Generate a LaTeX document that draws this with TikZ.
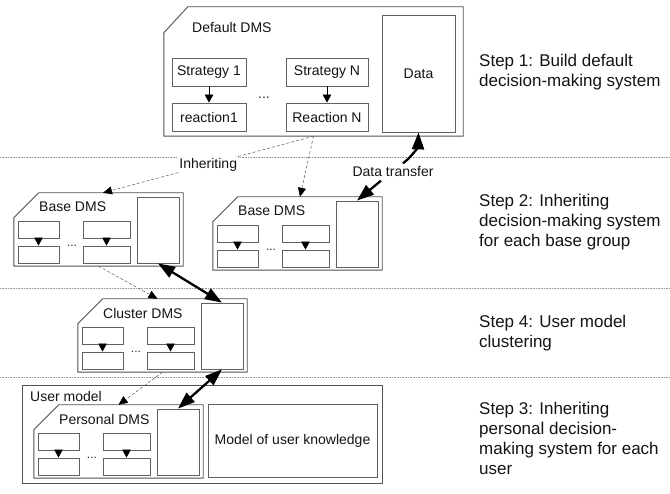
\documentclass[tikz,border=0pt]{standalone}
\usepackage{fontspec}
\setmainfont{Liberation Sans}
\usetikzlibrary{arrows.meta,fit,calc}

% outline of a DMS block: rectangle with the top-left corner cut off
\newcommand\dmsoutline[3]{%
  \draw[frame] ($(#1.north west)+(#2,0)$) -- (#1.north east) -- (#1.south east)
    -- (#1.south west) -- ($(#1.north west)+(0,#3)$) -- cycle;}

% a reduced DMS block (169 x 73) with two strategy columns and a data box
% #1 name, #2/#3 top-left corner, #4 title
\newcommand\smalldms[4]{%
  \node[area, fit={(#2,#3) (#2+169,#3+73)}] (#1) {};
  \dmsoutline{#1}{25}{25}
  \node[txt, anchor=west, inner sep=0pt] (#1-title) at (#2+25,#3+14) {#4};
  \node[cell, fit={(#2+4,#3+28) (#2+45,#3+45)}] (#1-a1) {};
  \node[cell, fit={(#2+4,#3+53) (#2+45,#3+70)}] (#1-a2) {};
  \node[cell, fit={(#2+69,#3+28) (#2+116,#3+45)}] (#1-b1) {};
  \node[cell, fit={(#2+69,#3+53) (#2+116,#3+70)}] (#1-b2) {};
  \node[cell, fit={(#2+123,#3+4) (#2+165,#3+70)}] (#1-data) {};
  \node[dots] (#1-dots) at (#2+58,#3+53) {...};
  \draw[flow] (#1-a1) -- (#1-a2);
  \draw[flow] (#1-b1) -- (#1-b2);}

\begin{document}
\begin{tikzpicture}[x=1pt,y=-1pt,
  txt/.style={font=\fontsize{14}{16}\selectfont, text=black!92},
  dots/.style={font=\fontsize{12}{14}\selectfont, text=black!85, inner sep=0pt},
  steptxt/.style={font=\fontsize{17}{20}\selectfont, text=black!92, align=left,
    anchor=west, inner sep=0pt},
  cell/.style={draw=black!62, line width=0.8pt, inner sep=0pt},
  frame/.style={draw=black!68, line width=0.9pt},
  area/.style={inner sep=0pt},
  sep/.style={draw=black!40, line width=0.6pt, dash pattern=on 0.8pt off 0.8pt},
  flow/.style={black, line width=0.6pt, -{Triangle[width=8.5pt,length=8pt]}},
  inherit/.style={draw=black!65, line width=0.5pt, dash pattern=on 3pt off 2pt,
    -{Triangle[width=8pt,length=9pt,color=black]}},
  bold1/.style={black, line width=2.3pt, -{Triangle[width=12pt,length=17pt]}},
  bold2/.style={black, line width=2.3pt,
    {Triangle[width=12pt,length=17pt]}-{Triangle[width=12pt,length=17pt]}}]

\useasboundingbox (0,0) rectangle (670,494);
\fill[white] (0,0) rectangle (670,494);

% separators between the steps
\draw[sep] (0,157) -- (670,157);
\draw[sep] (0,288) -- (670,288);
\draw[sep] (0,377) -- (670,377);

% default decision-making system
\node[area, fit={(164,7) (463,136)}] (dflt) {};
\dmsoutline{dflt}{24}{26}
\node[txt, anchor=west, inner sep=0pt] (dflt-title) at (192,27) {Default DMS};
\node[cell, fit={(172,58) (246,86)}] (s1) {};
\node[txt] at (s1) {Strategy 1};
\node[cell, fit={(172,103) (246,131)}] (r1) {};
\node[txt] at (r1) {reaction1};
\node[cell, fit={(286,58) (368,86)}] (sn) {};
\node[txt] at (sn) {Strategy N};
\node[cell, fit={(286,103) (368,131)}] (rn) {};
\node[txt] at (rn) {Reaction N};
\node[cell, fit={(382,15) (455,132)}] (dflt-data) {};
\node[txt] at (dflt-data) {Data};
\node[dots, font=\fontsize{14}{16}\selectfont] (dflt-dots) at (264,98) {...};
\draw[flow] (s1) -- (r1);
\draw[flow] (sn) -- (rn);

% base, cluster and personal systems
\smalldms{lbase}{14}{193}{Base DMS}
\smalldms{rbase}{213}{197}{Base DMS}
\smalldms{clus}{78}{299}{Cluster DMS}

% user model with its personal system
\node[area, fit={(23,386) (382,483)}] (user) {};
\draw[frame] (user.north west) rectangle (user.south east);
\node[txt, anchor=west, inner sep=0pt] (user-title) at (30,396) {User model};
\smalldms{pers}{34}{405}{Personal DMS}
\node[cell, fit={(208,404) (377,477)}] (know) {};
\node[txt] at (know) {Model of user knowledge};

% inheritance
\draw[inherit] (dflt.south) -- node[txt, fill=white, inner sep=1pt, pos=0.5] (inh) {Inheriting}
  ([xshift=4.5pt]lbase.north);
\draw[inherit] (dflt.south) -- ([xshift=2.5pt]rbase.north);
\draw[inherit] (lbase.south) -- ([xshift=-5pt]clus.north);
\draw[inherit] (clus.south) -- (pers.north);

% data transfer
\node[txt] (dt) at (393,172) {Data transfer};
\draw[bold1] ([xshift=10pt]dt.north) to[bend right=25] (dflt-data.south);
\draw[bold1] ([xshift=-12pt]dt.south) -- (rbase-data.north);
\draw[bold2] (lbase-data.south) -- (clus-data.north);
\draw[bold2] (clus-data.south) -- (pers-data.north);

% step descriptions
\node[steptxt] (st1) at (479,72) {Step 1: Build default\\decision-making system};
\node[steptxt] (st2) at (479,222) {Step 2: Inheriting\\decision-making system\\for each base group};
\node[steptxt] (st4) at (479,333) {Step 4: User model\\clustering};
\node[steptxt] (st3) at (479,438) {Step 3: Inheriting\\personal decision-\\making system for each\\user};
\end{tikzpicture}
\end{document}
